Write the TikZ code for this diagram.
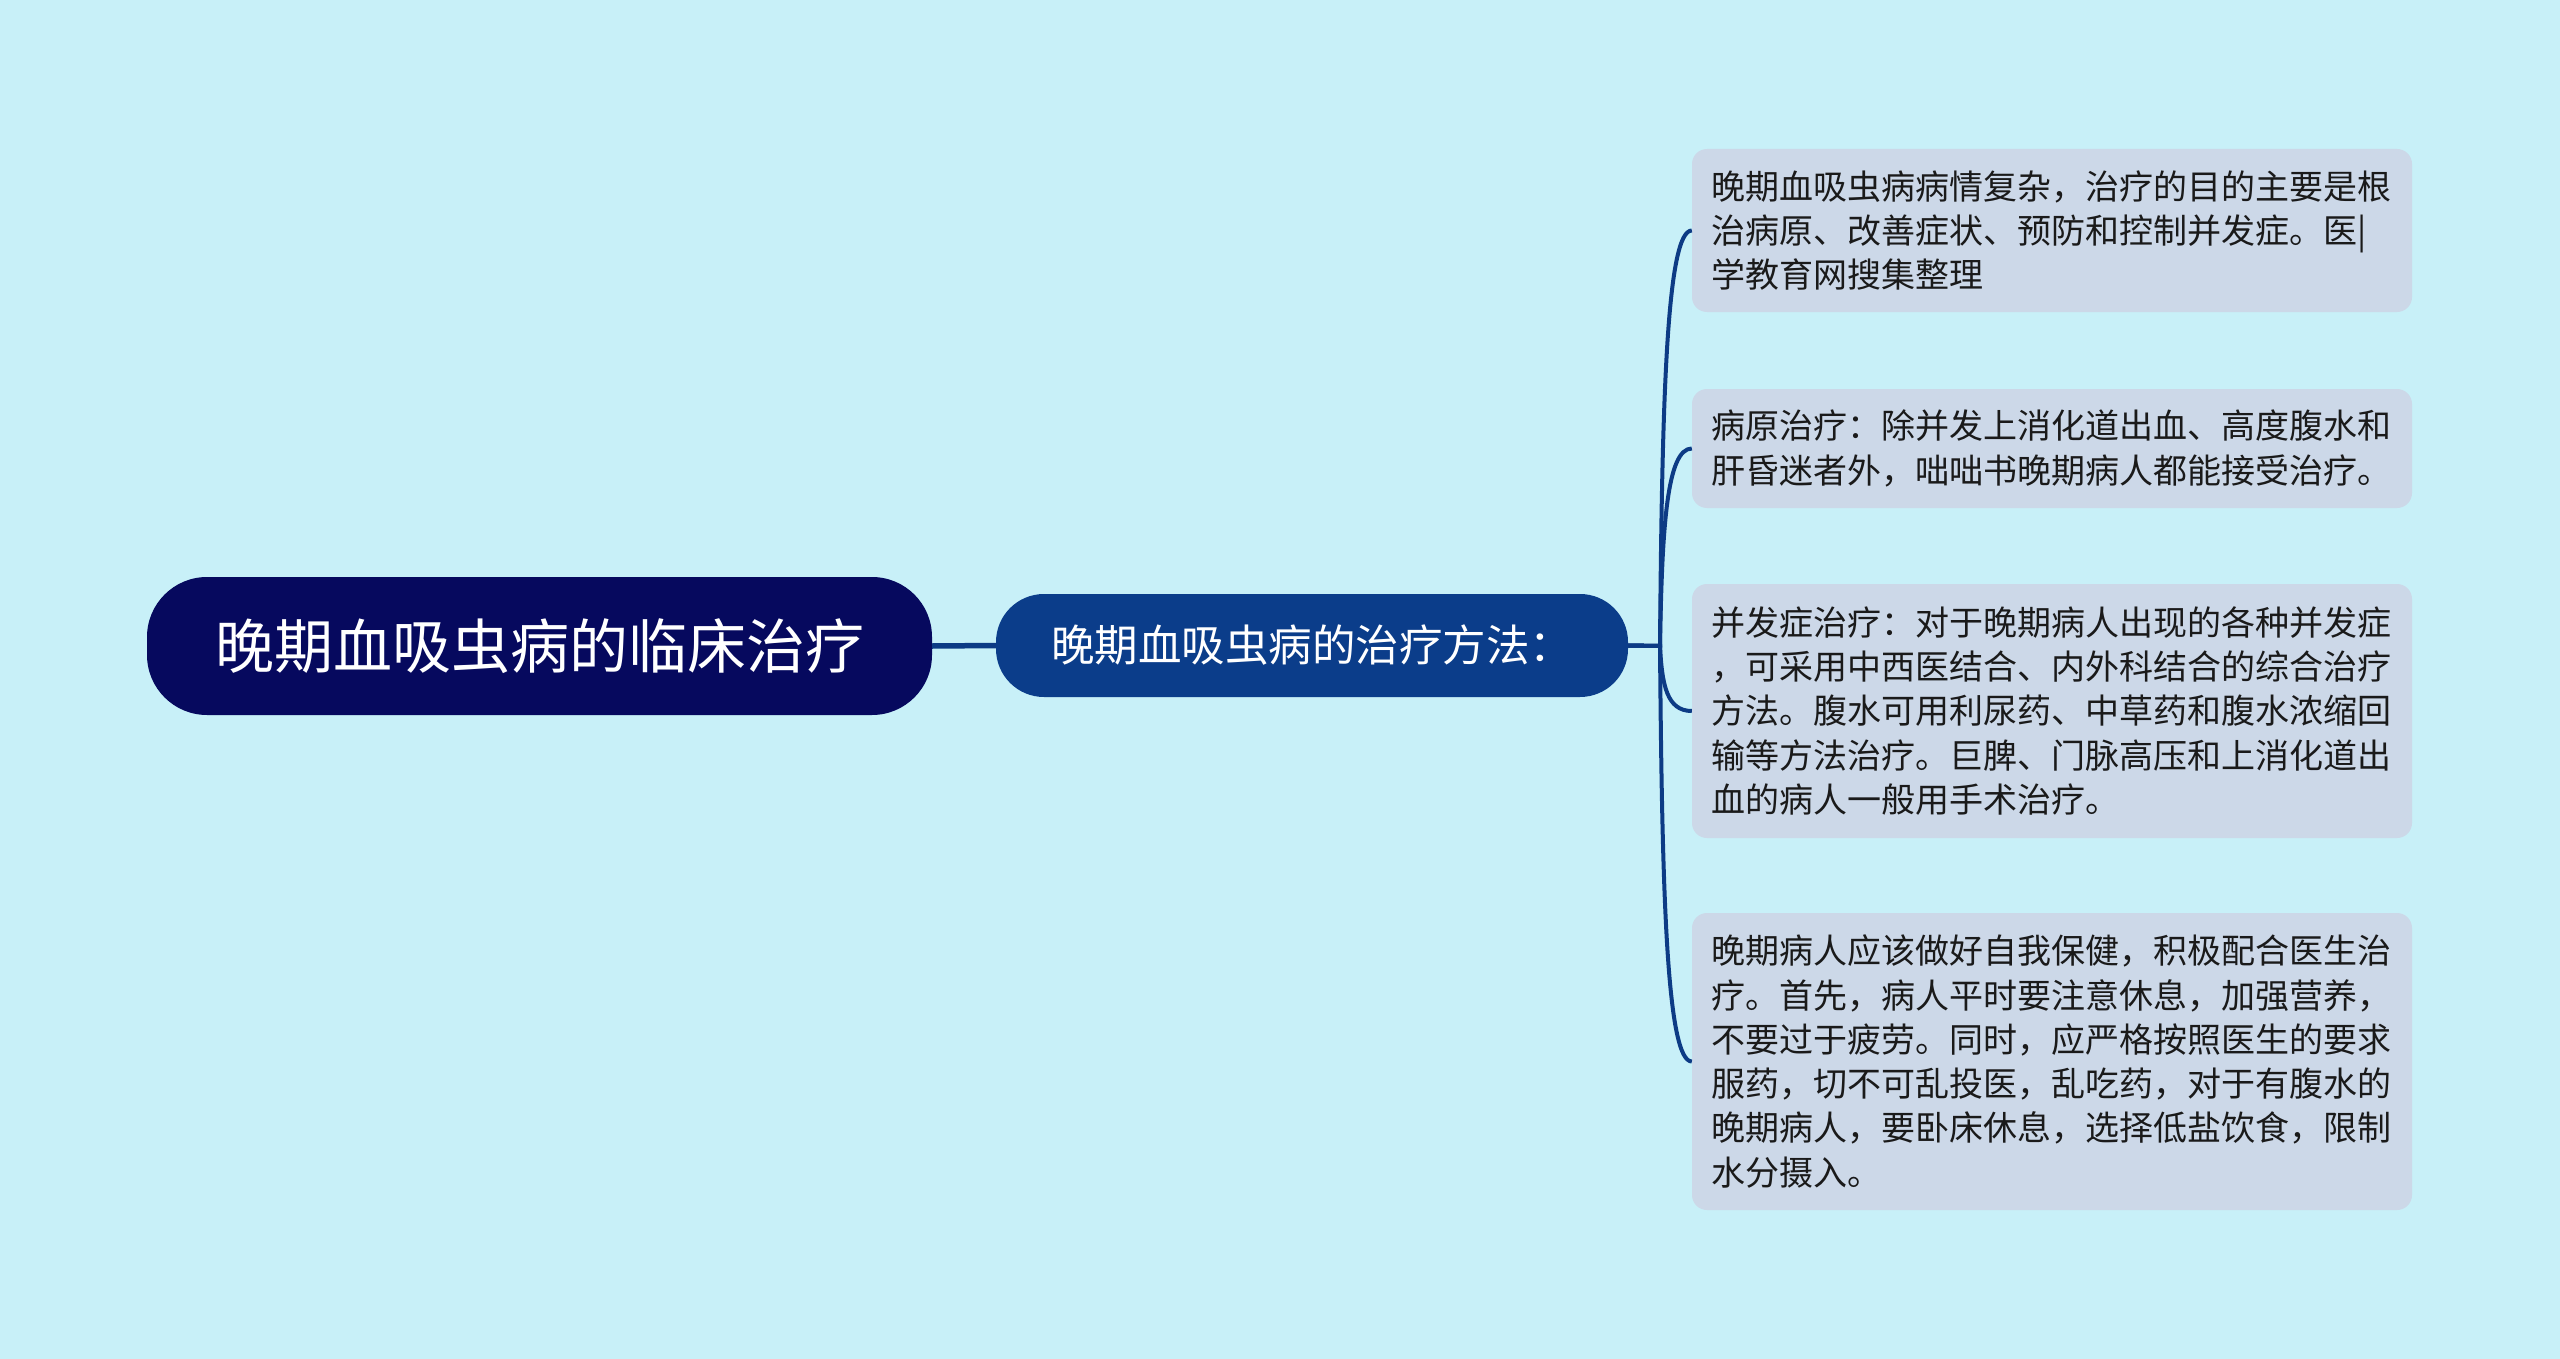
\documentclass[tikz,border=0pt]{standalone}
\usepackage{fontspec}
\setmainfont{Noto Sans CJK SC}
\usetikzlibrary{calc}
\definecolor{bgc}{HTML}{C8F0F8}
\definecolor{rootc}{HTML}{06095E}
\definecolor{midc}{HTML}{0B3D8A}
\definecolor{leafc}{HTML}{CCD8E8}
\definecolor{linec}{HTML}{0D3B85}
\definecolor{txtc}{HTML}{1A1A1A}
\tikzset{
  rootnode/.style={fill=rootc, rounded corners=60pt, minimum width=785pt, minimum height=138pt,
    inner sep=0pt, text=white, font=\fontsize{59}{70}\selectfont},
  midnode/.style={fill=midc, rounded corners=48pt, minimum width=632pt, minimum height=103pt,
    inner sep=0pt, text=white, font=\fontsize{43.5}{52}\selectfont},
  leafnode/.style={fill=leafc, rounded corners=15pt, text width=682pt, inner xsep=19pt, inner ysep=0pt,
    align=left, text=txtc, font=\fontsize{34}{44.3}\selectfont},
  link/.style={draw=linec, line width=4pt},
  rootlink/.style={draw=linec, line width=5.5pt}
}
\begin{document}
\begin{tikzpicture}[x=1pt,y=-1pt]
\fill[bgc] (0,0) rectangle (2560,1359);
\useasboundingbox (0,0) rectangle (2560,1359);

\node[rootnode] (root) at (539.5,646) {晚期血吸虫病的临床治疗};
\node[midnode] (mid) at (1312,645.5) {晚期血吸虫病的治疗方法：};

\node[leafnode, minimum height=163pt] (b1) at (2052,230.5) {晚期血吸虫病病情复杂，治疗的目的主要是根\\治病原、改善症状、预防和控制并发症。医|\\学教育网搜集整理};
\node[leafnode, minimum height=119pt] (b2) at (2052,448.5) {病原治疗：除并发上消化道出血、高度腹水和\\肝昏迷者外，咄咄书晚期病人都能接受治疗。};
\node[leafnode, minimum height=254pt] (b3) at (2052,711) {并发症治疗：对于晚期病人出现的各种并发症\\，可采用中西医结合、内外科结合的综合治疗\\方法。腹水可用利尿药、中草药和腹水浓缩回\\输等方法治疗。巨脾、门脉高压和上消化道出\\血的病人一般用手术治疗。};
\node[leafnode, minimum height=297pt] (b4) at (2052,1061.5) {晚期病人应该做好自我保健，积极配合医生治\\疗。首先，病人平时要注意休息，加强营养，\\不要过于疲劳。同时，应严格按照医生的要求\\服药，切不可乱投医，乱吃药，对于有腹水的\\晚期病人，要卧床休息，选择低盐饮食，限制\\水分摄入。};

\coordinate (j) at (1660,646);
\draw[rootlink] (root.east) -- (mid.west);
\foreach \b in {b1,b2,b3,b4}{
  \draw[link] (mid.east) -- (j) .. controls ($(j)!0.6!(j|-\b.west)+(2,0)$) and ($(\b.west)+(-25,0)$) .. (\b.west);
}
\end{tikzpicture}
\end{document}
